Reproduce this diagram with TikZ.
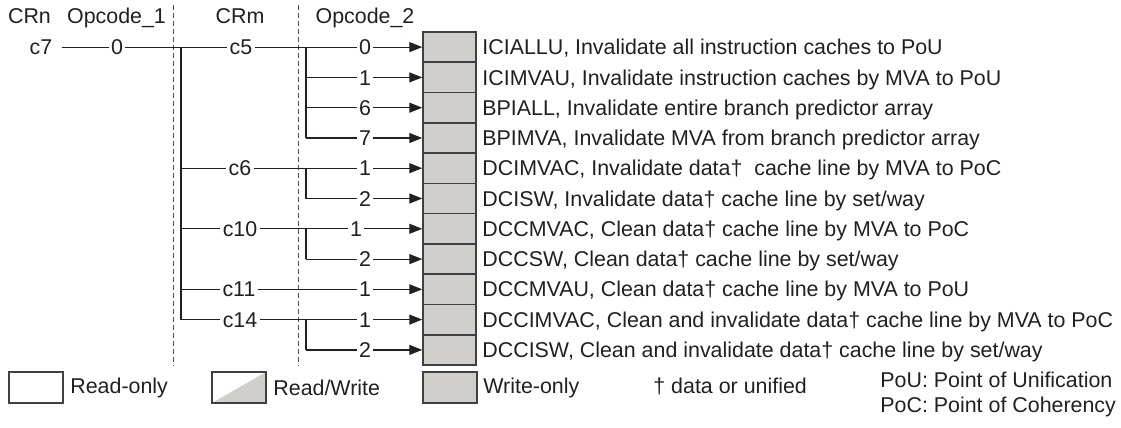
\documentclass[tikz,border=0pt]{standalone}
\usepackage{fontspec}
\setmainfont{Liberation Sans}
\usetikzlibrary{arrows.meta}
\definecolor{ink}{HTML}{231F20}
\definecolor{gr}{HTML}{D0CFCB}
\definecolor{bx}{HTML}{404040}
\definecolor{dg}{HTML}{505050}
\begin{document}
\begin{tikzpicture}[x=0.5pt,y=-0.5pt,
  every node/.style={font=\fontsize{10.7}{12}\selectfont, text=ink},
  hdr/.style={anchor=base},
  desc/.style={anchor=base west, inner sep=0pt},
  lab/.style={fill=white, inner xsep=1pt, inner ysep=0pt, text height=7.6pt, text depth=0pt},
  wire/.style={draw=ink, line width=0.6pt},
  arr/.style={wire, -{Triangle[length=6.5pt,width=5pt]}},
  cell/.style={draw=bx, fill=gr, line width=0.75pt, minimum width=26.5pt, minimum height=15.135pt, inner sep=0pt},
  legbox/.style={draw=bx, line width=0.75pt, minimum width=27pt, minimum height=15.5pt, inner sep=0pt},
  sepline/.style={draw=dg, line width=0.5pt, dash pattern=on 2.5pt off 1.5pt}]
\useasboundingbox (0,0) rectangle (1121,428);

% headers
\node[hdr] (hCRn) at (29.5,23.5) {CRn};
\node[hdr] (hOp1) at (116.5,23.5) {Opcode\_1};
\node[hdr] (hCRm) at (240,23.5) {CRm};
\node[hdr] (hOp2) at (365,23.5) {Opcode\_2};

% dashed separators
\coordinate (d1t) at (173,5); \coordinate (d1b) at (173,366);
\coordinate (d2t) at (298,5); \coordinate (d2b) at (298,366);
\draw[sepline] (d1t) -- (d1b);
\draw[sepline] (d2t) -- (d2b);

% cells and descriptions
\foreach \i/\y/\t in {
 1/47.1/{ICIALLU, Invalidate all instruction caches to PoU},
 2/77.4/{ICIMVAU, Invalidate instruction caches by MVA to PoU},
 3/107.7/{BPIALL, Invalidate entire branch predictor array},
 4/138.0/{BPIMVA, Invalidate MVA from branch predictor array},
 5/168.2/{DCIMVAC, Invalidate data†\ \ cache line by MVA to PoC},
 6/198.5/{DCISW, Invalidate data† cache line by set/way},
 7/228.8/{DCCMVAC, Clean data† cache line by MVA to PoC},
 8/259.1/{DCCSW, Clean data† cache line by set/way},
 9/289.3/{DCCMVAU, Clean data† cache line by MVA to PoU},
 10/319.6/{DCCIMVAC, Clean and invalidate data† cache line by MVA to PoC},
 11/349.9/{DCCISW, Clean and invalidate data† cache line by set/way}}{
  \node[cell] (b\i) at (449.5,\y) {};
  \node[desc] (t\i) at (482,\y+7.6) {\t};
  \coordinate (J\i) at (181,\y);
  \coordinate (K\i) at (306,\y);
}

% CRn / Opcode_1
\node[inner xsep=4.5pt, inner ysep=0pt, text height=7.6pt, text depth=0pt] (c7) at (41,47.1) {c7};
\node[lab] (o1) at (117,47.1) {0};

% CRm labels
\node[lab] (m5) at (241,47.1) {c5};
\node[lab] (m6) at (240,168.2) {c6};
\node[lab] (m10) at (240,228.8) {c10};
\node[lab] (m11) at (239,289.3) {c11};
\node[lab] (m14) at (240,319.6) {c14};

% Opcode_2 labels
\node[lab] (p1) at (365,47.1) {0};
\node[lab] (p2) at (365,77.4) {1};
\node[lab] (p3) at (365,107.7) {6};
\node[lab] (p4) at (365,138.0) {7};
\node[lab] (p5) at (365,168.2) {1};
\node[lab] (p6) at (365,198.5) {2};
\node[lab] (p7) at (356,228.8) {1};
\node[lab] (p8) at (365,259.1) {2};
\node[lab] (p9) at (365,289.3) {1};
\node[lab] (p10) at (365,319.6) {1};
\node[lab] (p11) at (365,349.9) {2};

% connectors
\draw[wire] (c7) -- (o1);
\draw[wire] (o1) -- (m5);
\draw[wire] (m5) -- (p1);
\draw[arr] (p1) -- (b1);
\draw[wire] (J1) -- (J10);
\draw[wire] (K1) -- (K4);
\draw[wire] (K5) -- (K6);
\draw[wire] (K7) -- (K8);
\draw[wire] (K10) -- (K11);
\foreach \i in {2,3,4,6,8,11}{
  \draw[wire] (K\i) -- (p\i);
  \draw[arr] (p\i) -- (b\i);
}
\foreach \i/\m in {5/m6,7/m10,9/m11,10/m14}{
  \draw[wire] (J\i) -- (\m);
  \draw[wire] (\m) -- (p\i);
  \draw[arr] (p\i) -- (b\i);
}

% legend
\node[legbox] (lro) at (36,387.5) {};
\node[anchor=base west, inner sep=0pt] (tro) at (70,393) {Read-only};
\node[legbox, path picture={\fill[gr] (path picture bounding box.south west) -- (path picture bounding box.north east) |- cycle;}] (lrw) at (239,387.5) {};
\node[anchor=base west, inner sep=0pt] (trw) at (273,395) {Read/Write};
\node[legbox, fill=gr] (lwo) at (450,387.5) {};
\node[anchor=base west, inner sep=0pt] (two) at (483,393) {Write-only};
\node[anchor=base west, inner sep=0pt] (tdag) at (653,393) {† data or unified};
\node[anchor=base west, inner sep=0pt] (tpou) at (880,387) {PoU: Point of Unification};
\node[anchor=base west, inner sep=0pt] (tpoc) at (880,412) {PoC: Point of Coherency};
\end{tikzpicture}
\end{document}
